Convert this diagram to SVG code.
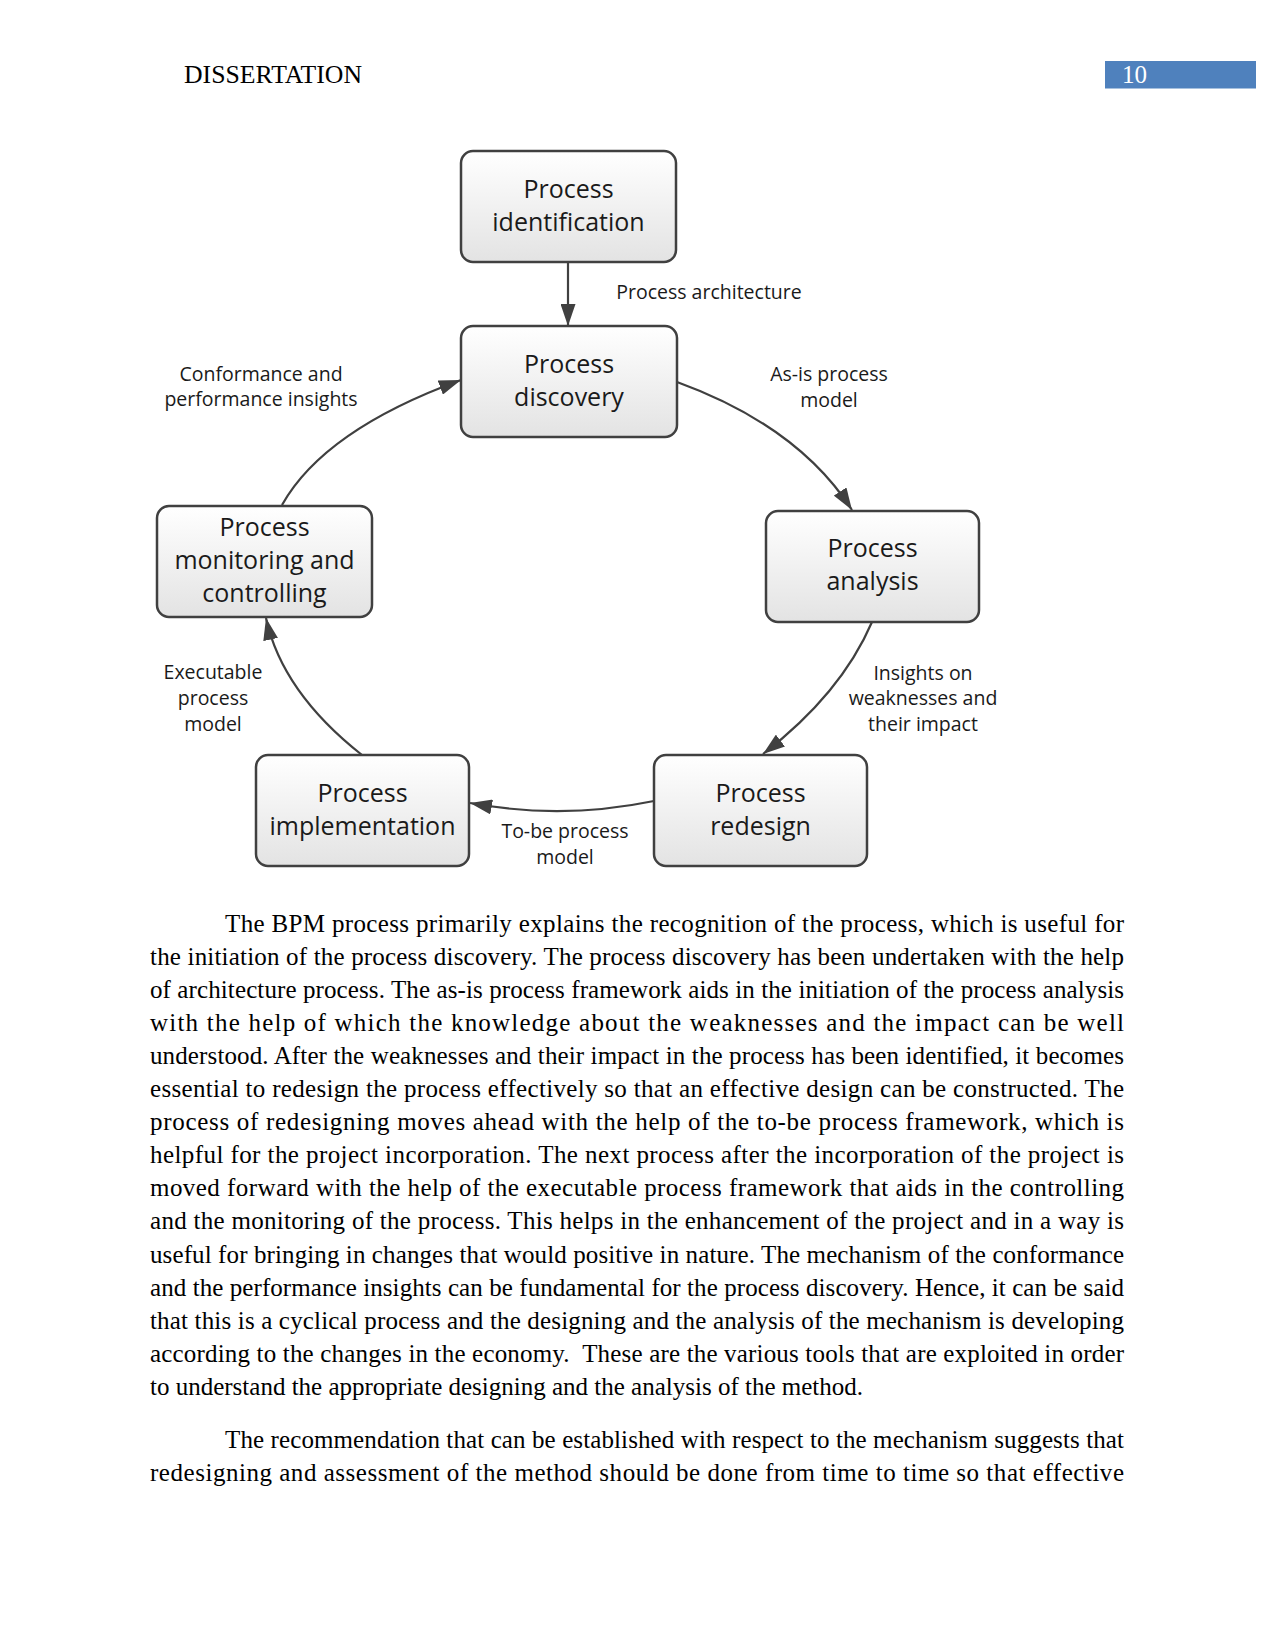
<svg xmlns="http://www.w3.org/2000/svg" width="1275" height="1651" viewBox="0 0 1275 1651">
<defs>
<linearGradient id="g" x1="0" y1="0" x2="0" y2="1"><stop offset="0" stop-color="#ffffff"/><stop offset="1" stop-color="#e3e3e3"/></linearGradient>
<marker id="ah" markerUnits="userSpaceOnUse" markerWidth="22" markerHeight="15" refX="22" refY="7.5" orient="auto"><path d="M0,0 L22,7.5 L0,15 z" fill="#404040"/></marker>
</defs>
<style>
.box{fill:url(#g);stroke:#404040;stroke-width:2.5}
.bt{font-family:"Open Sans",sans-serif;font-size:25px;fill:#1a1a1a;text-anchor:middle}
.lb{font-family:"Open Sans",sans-serif;font-size:19.5px;fill:#1a1a1a;text-anchor:middle}
.cn{fill:none;stroke:#404040;stroke-width:2.2;marker-end:url(#ah)}
.body{font-family:"Liberation Serif","Times New Roman",serif;font-size:25px;fill:#000}
</style>
<rect width="1275" height="1651" fill="#ffffff"/>
<g id="header">
<text class="body" x="184" y="83" textLength="178" lengthAdjust="spacingAndGlyphs">DISSERTATION</text>
<rect x="1105" y="61" width="151" height="27.5" fill="#4f81bd"/>
<text class="body" x="1122" y="83" style="fill:#ffffff">10</text>
</g>
<g id="connectors">
<path class="cn" d="M568,262 L568,326"/>
<path class="cn" d="M677,382 Q798,426 852,510"/>
<path class="cn" d="M872,622 Q841,694 763,754"/>
<path class="cn" d="M654,801 Q562,820 470,803"/>
<path class="cn" d="M362,755 Q282,692 266,618"/>
<path class="cn" d="M282,505 Q324,430 461,380"/>
</g>
<g id="labels">
<text class="lb" x="709" y="299">Process architecture</text>
<text class="lb" x="829" y="381">As-is process</text>
<text class="lb" x="829" y="407">model</text>
<text class="lb" x="261" y="381">Conformance and</text>
<text class="lb" x="261" y="406">performance insights</text>
<text class="lb" x="923" y="680">Insights on</text>
<text class="lb" x="923" y="705">weaknesses and</text>
<text class="lb" x="923" y="731">their impact</text>
<text class="lb" x="213" y="679">Executable</text>
<text class="lb" x="213" y="705">process</text>
<text class="lb" x="213" y="731">model</text>
<text class="lb" x="565" y="838">To-be process</text>
<text class="lb" x="565" y="864">model</text>
</g>
<g id="node-identification">
<rect class="box" x="461" y="151" width="215" height="111" rx="12"/>
<text class="bt" x="568.5" y="198">Process</text>
<text class="bt" x="568.5" y="231">identification</text>
</g>
<g id="node-discovery">
<rect class="box" x="461" y="326" width="216" height="111" rx="12"/>
<text class="bt" x="569" y="373">Process</text>
<text class="bt" x="569" y="406">discovery</text>
</g>
<g id="node-analysis">
<rect class="box" x="766" y="511" width="213" height="111" rx="12"/>
<text class="bt" x="872.5" y="557">Process</text>
<text class="bt" x="872.5" y="590">analysis</text>
</g>
<g id="node-redesign">
<rect class="box" x="654" y="755" width="213" height="111" rx="12"/>
<text class="bt" x="760.5" y="802">Process</text>
<text class="bt" x="760.5" y="835">redesign</text>
</g>
<g id="node-implementation">
<rect class="box" x="256" y="755" width="213" height="111" rx="12"/>
<text class="bt" x="362.5" y="802">Process</text>
<text class="bt" x="362.5" y="835">implementation</text>
</g>
<g id="node-monitoring">
<rect class="box" x="157" y="506" width="215" height="111" rx="12"/>
<text class="bt" x="264.5" y="536">Process</text>
<text class="bt" x="264.5" y="569">monitoring and</text>
<text class="bt" x="264.5" y="602">controlling</text>
</g>
<g id="body-text">
<text class="body" x="225" y="931.5" textLength="899" lengthAdjust="spacing">The BPM process primarily explains the recognition of the process, which is useful for</text>
<text class="body" x="150" y="964.6" textLength="974" lengthAdjust="spacing">the initiation of the process discovery. The process discovery has been undertaken with the help</text>
<text class="body" x="150" y="997.7" textLength="974" lengthAdjust="spacing">of architecture process. The as-is process framework aids in the initiation of the process analysis</text>
<text class="body" x="150" y="1030.8" textLength="974" lengthAdjust="spacing">with the help of which the knowledge about the weaknesses and the impact can be well</text>
<text class="body" x="150" y="1063.9" textLength="974" lengthAdjust="spacing">understood. After the weaknesses and their impact in the process has been identified, it becomes</text>
<text class="body" x="150" y="1097" textLength="974" lengthAdjust="spacing">essential to redesign the process effectively so that an effective design can be constructed. The</text>
<text class="body" x="150" y="1130.1" textLength="974" lengthAdjust="spacing">process of redesigning moves ahead with the help of the to-be process framework, which is</text>
<text class="body" x="150" y="1163.2" textLength="974" lengthAdjust="spacing">helpful for the project incorporation. The next process after the incorporation of the project is</text>
<text class="body" x="150" y="1196.3" textLength="974" lengthAdjust="spacing">moved forward with the help of the executable process framework that aids in the controlling</text>
<text class="body" x="150" y="1229.4" textLength="974" lengthAdjust="spacing">and the monitoring of the process. This helps in the enhancement of the project and in a way is</text>
<text class="body" x="150" y="1262.5" textLength="974" lengthAdjust="spacing">useful for bringing in changes that would positive in nature. The mechanism of the conformance</text>
<text class="body" x="150" y="1295.6" textLength="974" lengthAdjust="spacing">and the performance insights can be fundamental for the process discovery. Hence, it can be said</text>
<text class="body" x="150" y="1328.7" textLength="974" lengthAdjust="spacing">that this is a cyclical process and the designing and the analysis of the mechanism is developing</text>
<text class="body" x="150" y="1361.8" textLength="974" lengthAdjust="spacing" style="white-space:pre">according to the changes in the economy.  These are the various tools that are exploited in order</text>
<text class="body" x="150" y="1394.9">to understand the appropriate designing and the analysis of the method.</text>
<text class="body" x="225" y="1448" textLength="899" lengthAdjust="spacing">The recommendation that can be established with respect to the mechanism suggests that</text>
<text class="body" x="150" y="1481" textLength="974" lengthAdjust="spacing">redesigning and assessment of the method should be done from time to time so that effective</text>
</g>
</svg>
